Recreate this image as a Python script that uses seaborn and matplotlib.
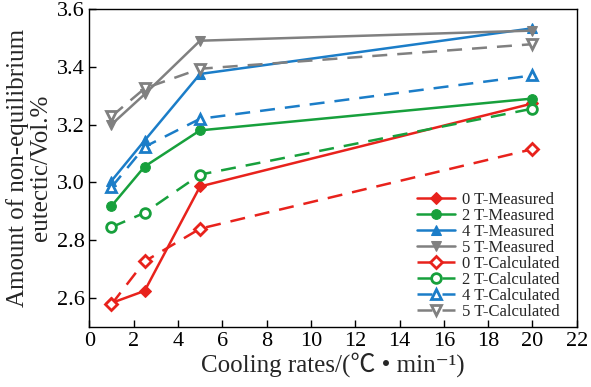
import numpy as np
import pandas as pd
import matplotlib
matplotlib.use("Agg")
import matplotlib.pyplot as plt
import seaborn as sns

# cooling rates (x) and the eutectic amounts
rates = [1, 2.5, 5, 20]

meas_0T = [2.583, 2.625, 2.986, 3.273]
meas_2T = [2.918, 3.055, 3.180, 3.290]
meas_4T = [3.005, 3.145, 3.375, 3.533]
meas_5T = [3.200, 3.305, 3.490, 3.525]

calc_0T = [2.578, 2.727, 2.840, 3.115]
calc_2T = [2.845, 2.895, 3.027, 3.255]
calc_4T = [2.983, 3.123, 3.220, 3.370]
calc_5T = [3.228, 3.325, 3.393, 3.478]

fields = ["0 T", "2 T", "4 T", "5 T"]
measured = [meas_0T, meas_2T, meas_4T, meas_5T]
calculated = [calc_0T, calc_2T, calc_4T, calc_5T]

colors = ["#e8221c", "#17a03c", "#1b7dc8", "#808080"]
markers = ["D", "o", "^", "v"]

sns.set_style("ticks")
plt.rcParams["font.family"] = ["Liberation Serif", "Noto Sans CJK SC", "DejaVu Sans"]

fig = plt.figure(figsize=(5.91, 3.87), dpi=100)
ax = fig.add_axes([0.151, 0.155, 0.825, 0.822])

for name, vals, c, m in zip(fields, measured, colors, markers):
    df = pd.DataFrame({"rate": rates, "amount": vals})
    sns.lineplot(data=df, x="rate", y="amount", ax=ax, color=c, marker=m,
                 markersize=7 if m != "D" else 6.5, markeredgecolor=c,
                 linewidth=1.8, label=name + "-Measured")

for name, vals, c, m in zip(fields, calculated, colors, markers):
    df = pd.DataFrame({"rate": rates, "amount": vals})
    sns.lineplot(data=df, x="rate", y="amount", ax=ax, color=c, marker=m,
                 markersize=7 if m != "D" else 6.5, markerfacecolor="white",
                 markeredgecolor=c, markeredgewidth=2, linestyle=(0, (6, 4)),
                 linewidth=1.8, label=name + "-Calculated")

ax.set_xlim(0, 22)
ax.set_ylim(2.5, 3.6)
ax.set_xticks(np.arange(0, 23, 2))
ax.set_yticks([2.6, 2.8, 3.0, 3.2, 3.4, 3.6])
ax.set_yticklabels(["2.6", "2.8", "3.0", "3.2", "3.4", "3.6"])
ax.tick_params(direction="in", labelsize=16, length=5, width=1, colors="black")
for s in ax.spines.values():
    s.set_linewidth(1)
    s.set_color("black")

ax.set_xlabel("Cooling rates/(℃ • min⁻¹)", fontsize=18, labelpad=1)
ax.set_ylabel("Amount of non-equilibrium\neutectic/Vol.%", fontsize=18, labelpad=3,
              linespacing=1.05)

ax.legend(loc="lower right", bbox_to_anchor=(0.985, -0.01), frameon=False,
          fontsize=12, labelspacing=0.0, handlelength=2.3, handletextpad=0.4,
          borderaxespad=0.2)

fig.savefig("out.png", dpi=100)
